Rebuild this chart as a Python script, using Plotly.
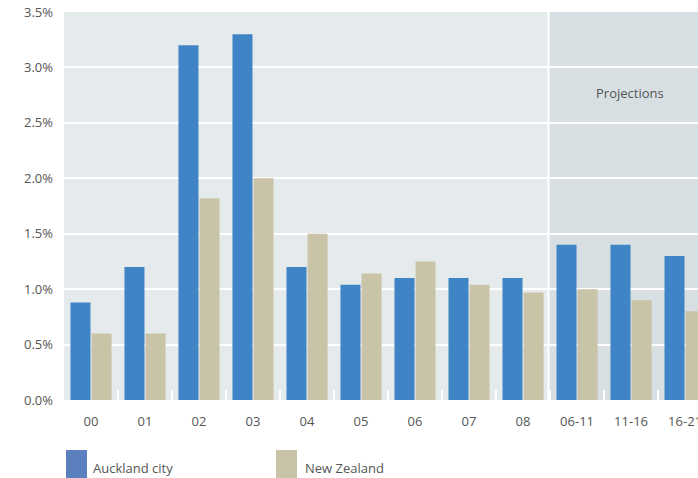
import plotly.graph_objects as go

categories = ["00", "01", "02", "03", "04", "05", "06", "07", "08", "06-11", "11-16", "16-21"]
auckland = [0.88, 1.2, 3.2, 3.3, 1.2, 1.04, 1.1, 1.1, 1.1, 1.4, 1.4, 1.3]
new_zealand = [0.6, 0.6, 1.82, 2.0, 1.5, 1.14, 1.25, 1.04, 0.97, 1.0, 0.9, 0.8]
series_names = ["Auckland city", "New Zealand"]
y_ticks = [0, 0.5, 1.0, 1.5, 2.0, 2.5, 3.0, 3.5]
y_tick_text = ["0.0%", "0.5%", "1.0%", "1.5%", "2.0%", "2.5%", "3.0%", "3.5%"]

blue = "#3f84c5"
tan = "#c9c3a7"
font = "Open Sans"
txt = "#555555"

fig = go.Figure()
fig.add_trace(go.Bar(x=list(range(len(categories))), y=auckland, name=series_names[0],
                     marker=dict(color=blue, line=dict(width=0))))
fig.add_trace(go.Bar(x=list(range(len(categories))), y=new_zealand, name=series_names[1],
                     marker=dict(color=tan, line=dict(width=0))))

# projections shaded region
fig.add_shape(type="rect", xref="x", yref="y", x0=8.5, x1=11.5, y0=0, y1=3.5,
              fillcolor="#d7dfe3", line=dict(width=0), layer="below")
fig.add_shape(type="line", xref="x", yref="y", x0=8.47, x1=8.47, y0=0, y1=3.5,
              line=dict(color="white", width=2), layer="below")
fig.add_annotation(x=9.98, y=2.77, xref="x", yref="y", text="Projections", showarrow=False,
                   font=dict(family=font, size=13, color=txt))

# legend drawn manually
fig.add_shape(type="rect", xref="paper", yref="paper", x0=2/634, x1=23/634,
              y0=-78/388, y1=-50/388, fillcolor="#5a80c0", line=dict(width=0))
fig.add_shape(type="rect", xref="paper", yref="paper", x0=212/634, x1=233/634,
              y0=-78/388, y1=-50/388, fillcolor="#c8c3a6", line=dict(width=0))
fig.add_annotation(x=27/634, y=-68/388, xref="paper", yref="paper", text=series_names[0],
                   showarrow=False, xanchor="left", yanchor="middle",
                   font=dict(family=font, size=13, color=txt))
fig.add_annotation(x=239/634, y=-68/388, xref="paper", yref="paper", text=series_names[1],
                   showarrow=False, xanchor="left", yanchor="middle",
                   font=dict(family=font, size=13, color=txt))

fig.update_layout(
    width=698, height=478,
    margin=dict(l=64, r=0, t=12, b=78, autoexpand=False),
    paper_bgcolor="white",
    plot_bgcolor="#e5eaed",
    barmode="group",
    bargap=0.22,
    bargroupgap=0.05,
    showlegend=False,
    font=dict(family=font, size=13, color=txt),
    xaxis=dict(
        range=[-0.5, 11.24],
        tickmode="array",
        tickvals=list(range(len(categories))),
        ticktext=categories,
        showgrid=False,
        zeroline=False,
        ticks="",
        automargin=False,
        ticklabelstandoff=12,
        ticklabeloverflow="allow",
        tickfont=dict(family=font, size=13, color=txt),
    ),
    yaxis=dict(
        range=[0, 3.5],
        tickmode="array",
        tickvals=y_ticks,
        ticktext=y_tick_text,
        showgrid=True,
        gridcolor="white",
        gridwidth=2,
        zeroline=False,
        ticks="",
        automargin=False,
        ticklabelstandoff=10,
        tickfont=dict(family=font, size=13, color=txt),
    ),
)

# white boundary ticks at the bottom between categories
for i in range(len(categories)):
    b = i + 0.5
    fig.add_shape(type="line", xref="x", yref="y", x0=b, x1=b, y0=0, y1=0.09,
                  line=dict(color="white", width=2), layer="above")

fig.write_html("out.html")
